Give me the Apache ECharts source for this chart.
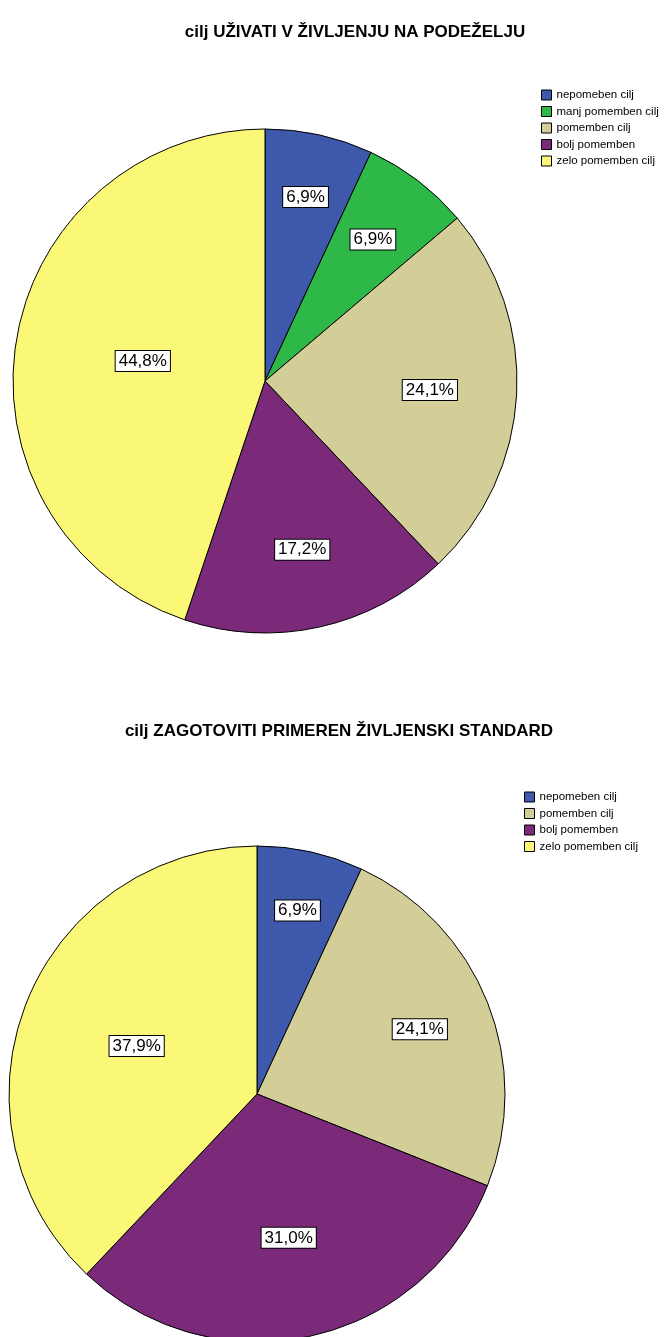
<!DOCTYPE html>
<html>
<head>
<meta charset="utf-8">
<script src="https://cdn.jsdelivr.net/npm/echarts@6/dist/echarts.min.js"></script>
<style>
  html, body { margin: 0; padding: 0; background: #fff; }
  #container { width: 666px; height: 1337px; }
</style>
</head>
<body>
<div id="container"></div>
<script>
// podatki (odstotki), prebrani s slike
var kategorije1 = ['nepomeben cilj', 'manj pomemben cilj', 'pomemben cilj', 'bolj pomemben', 'zelo pomemben cilj'];
var vrednosti1 = [6.9, 6.9, 24.1, 17.2, 44.8];
var barve1 = ['#3e58ac', '#2eb848', '#d3ce97', '#7b2a7a', '#fbf877'];

var kategorije2 = ['nepomeben cilj', 'pomemben cilj', 'bolj pomemben', 'zelo pomemben cilj'];
var vrednosti2 = [6.9, 24.1, 31.0, 37.9];
var barve2 = ['#3e58ac', '#d3ce97', '#7b2a7a', '#fbf877'];

var naslov1 = 'cilj UŽIVATI V ŽIVLJENJU NA PODEŽELJU';
var naslov2 = 'cilj ZAGOTOVITI PRIMEREN ŽIVLJENSKI STANDARD';

// kje so oznake (delež polmera), kot pri SPSS
var oddaljenost1 = [0.73, 0.69, 0.64, 0.67, 0.48];
var oddaljenost2 = [0.74, 0.69, 0.58, 0.51];

var center1 = [265, 381], center2 = [257, 1094];

function pripraviPodatke(kat, vr, barve) {
    return kat.map(function (k, i) {
        return { name: k, value: vr[i], itemStyle: { color: barve[i] } };
    });
}

function premakniOznako(center, faktorji) {
    return function (params) {
        var r = params.labelRect;
        var lx = r.x + r.width / 2, ly = r.y + r.height / 2;
        var k = faktorji[params.dataIndex] / 0.5 - 1;
        return { dx: (lx - center[0]) * k, dy: (ly - center[1]) * k };
    };
}

var oznaka = {
    show: true,
    position: 'inside',
    formatter: function (p) { return p.value.toFixed(1).replace('.', ',') + '%'; },
    color: '#000',
    fontSize: 17,
    fontFamily: 'Liberation Sans',
    backgroundColor: '#fff',
    borderColor: '#000',
    borderWidth: 1,
    padding: [2, 3, 1, 3]
};

var legenda = {
    orient: 'vertical',
    padding: 0,
    itemWidth: 10,
    itemHeight: 10,
    itemGap: 4.5,
    icon: 'rect',
    selectedMode: false,
    itemStyle: { borderColor: '#000', borderWidth: 1 },
    textStyle: { fontSize: 11.5, lineHeight: 11, color: '#000', fontFamily: 'Liberation Sans' }
};

var naslovStil = { fontSize: 17, fontWeight: 'bold', color: '#000', fontFamily: 'Liberation Sans' };

var dom = document.getElementById("container");
var myChart = echarts.init(dom);

option = {
    backgroundColor: '#fff',
    animation: false,
    title: [
        { text: naslov1, left: 350, top: 19, textAlign: 'center', textStyle: naslovStil },
        { text: naslov2, left: 334, top: 718, textAlign: 'center', textStyle: naslovStil }
    ],
    legend: [
        Object.assign({}, legenda, { data: kategorije1, left: 541, top: 89 }),
        Object.assign({}, legenda, { data: kategorije2, left: 524, top: 791 })
    ],
    series: [
        {
            name: 'g1',
            type: 'pie',
            center: center1,
            radius: [0, 252],
            startAngle: 90,
            clockwise: true,
            silent: true,
            itemStyle: { borderColor: '#000', borderWidth: 1 },
            label: oznaka,
            labelLine: { show: false },
            labelLayout: premakniOznako(center1, oddaljenost1),
            data: pripraviPodatke(kategorije1, vrednosti1, barve1)
        },
        {
            name: 'g2',
            type: 'pie',
            center: center2,
            radius: [0, 248],
            startAngle: 90,
            clockwise: true,
            silent: true,
            itemStyle: { borderColor: '#000', borderWidth: 1 },
            label: oznaka,
            labelLine: { show: false },
            labelLayout: premakniOznako(center2, oddaljenost2),
            data: pripraviPodatke(kategorije2, vrednosti2, barve2)
        }
    ]
};

if (option && typeof option === "object") {
    myChart.setOption(option, true);
};
</script>
</body>
</html>
